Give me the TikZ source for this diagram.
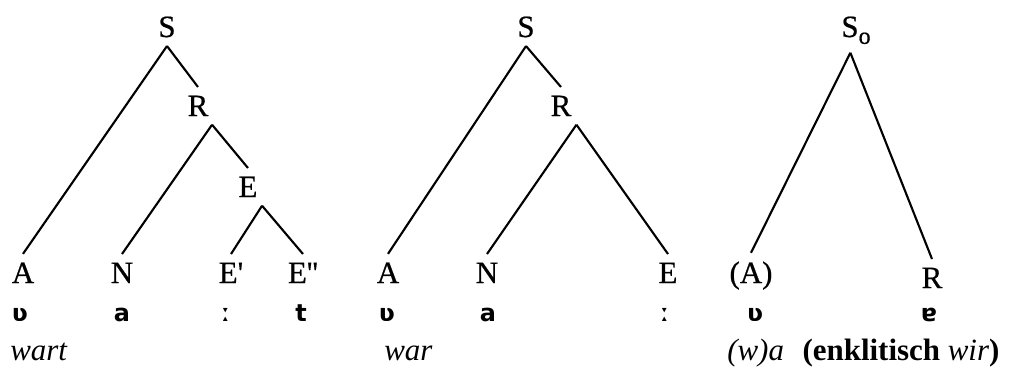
\documentclass[tikz,border=0pt]{standalone}
\usepackage{fontspec}
\setmainfont{Liberation Serif}
\newfontfamily\labfont[FakeBold=0.6]{Liberation Serif}
\newfontfamily\ipafont{DejaVu Sans}
\usepackage{tikz}
\usetikzlibrary{positioning}

\begin{document}
\begin{tikzpicture}[
    x=0.025cm, y=-0.025cm,
    lab/.style={anchor=base, inner sep=6pt, font=\labfont\fontsize{22}{26}\selectfont},
    ipa/.style={anchor=base, inner sep=0pt, font=\ipafont\bfseries\fontsize{17}{20}\selectfont},
    gloss/.style={anchor=base west, inner sep=0pt, font=\fontsize{22}{26}\selectfont},
    edge/.style={line width=1.5pt}
]
\useasboundingbox (0,0) rectangle (1017,369);

% wart
\node[lab] (s1) at (167,37) {S};
\node[lab] (r1) at (198,116) {R};
\node[lab] (e1) at (248,197) {E};
\node[lab] (a1) at (23,283) {A};
\node[lab] (n1) at (122,283) {N};
\node[lab] (ea1) at (231,283) {E\textquotesingle};
\node[lab] (eb1) at (303,283) {E\textquotesingle\textquotesingle};

\draw[edge] (s1.south) -- (a1.north);
\draw[edge] (s1.south) -- (r1.north);
\draw[edge] ([xshift=10pt]r1.south) -- (n1.north);
\draw[edge] ([xshift=10pt]r1.south) -- (e1.north);
\draw[edge] ([xshift=10pt]e1.south) -- (ea1.north);
\draw[edge] ([xshift=10pt]e1.south) -- (eb1.north);

\node[ipa] (p1a) at (20,321) {ʋ};
\node[ipa] (p1b) at (122,321) {a};
\node[ipa] (p1c) at (226,321) {ː};
\node[ipa] (p1d) at (301,321) {t};
\node[gloss] (g1) at (10,360) {\textit{wart}};

% war
\node[lab] (s2) at (526,37) {S};
\node[lab] (r2) at (561,116) {R};
\node[lab] (a2) at (388,283) {A};
\node[lab] (n2) at (487,283) {N};
\node[lab] (e2) at (668,283) {E};

\draw[edge] (s2.south) -- (a2.north);
\draw[edge] (s2.south) -- (r2.north);
\draw[edge] ([xshift=11pt]r2.south) -- (n2.north);
\draw[edge] ([xshift=11pt]r2.south) -- (e2.north);

\node[ipa] (p2a) at (387,321) {ʋ};
\node[ipa] (p2b) at (488,321) {a};
\node[ipa] (p2c) at (665,321) {ː};
\node[gloss] (g2) at (384,360) {\textit{war}};

% (w)a
\node[lab] (s3) at (856,37) {S\raisebox{-0.22em}{\fontsize{17}{20}\selectfont o}};
\node[lab] (a3) at (751,283) {(A)};
\node[lab] (r3) at (932,288) {R};

\draw[edge] ([xshift=-4pt]s3.south) -- (a3.north);
\draw[edge] ([xshift=-4pt]s3.south) -- (r3.north);

\node[ipa] (p3a) at (755,321) {ʋ};
\node[ipa] (p3b) at (929,321) {ɐ};
\node[gloss] (g3) at (727,360) {\textit{(w)a}\hspace{0.35em} \textbf{(enklitisch} \textit{wir}\textbf{)}};
\end{tikzpicture}
\end{document}
